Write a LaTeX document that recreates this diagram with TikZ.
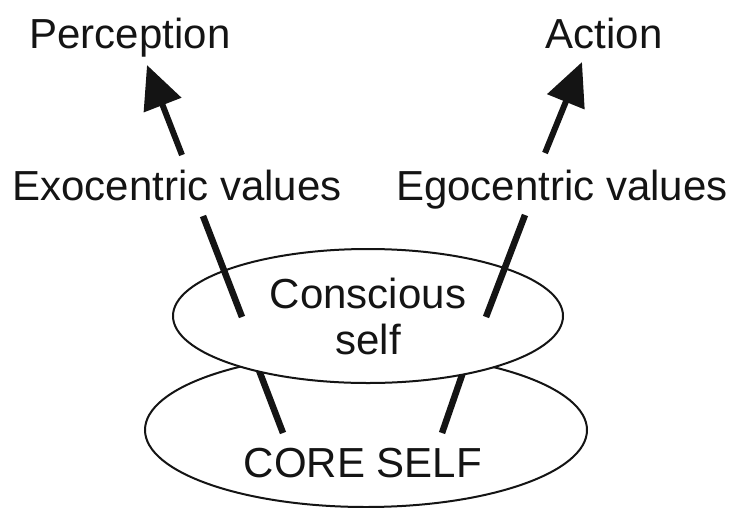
\documentclass[tikz,border=0pt]{standalone}
\usepackage{fontspec}
\setmainfont{Liberation Sans}
\usepackage{tikz}
\usetikzlibrary{arrows.meta,shapes.geometric}
\definecolor{csInk}{RGB}{20,20,20}

\begin{document}
\begin{tikzpicture}[x=1pt, y=-1pt,
  lbl/.style={font=\fontsize{42}{46}\selectfont, text=csInk, inner sep=0pt, anchor=base},
  selfoval/.style={ellipse, draw=csInk, line width=2pt, fill=white, inner sep=0pt},
  valarrow/.style={csInk, line width=6pt, -{Triangle[length=43pt,width=39pt]}},
  link/.style={csInk, line width=6.5pt}]
  \useasboundingbox (0,0) rectangle (733,507);

  % Outcomes
  \node[lbl] (perc) at (130,48) {Perception};
  \node[lbl] (act) at (604,48) {Action};

  % Values
  \node[lbl] (exo) at (177,200) {Exocentric values};
  \node[lbl] (ego) at (562,200) {Egocentric values};

  % Line ends
  \coordinate (exo-up) at (182,155);
  \coordinate (perc-tip) at (147,65);
  \coordinate (ego-up) at (545,153);
  \coordinate (act-tip) at (582,62);
  \coordinate (exo-dn) at (203,216);
  \coordinate (cons-l) at (242,317);
  \coordinate (ego-dn) at (525,215);
  \coordinate (cons-r) at (486,317);
  \coordinate (cons-bl) at (252,352);
  \coordinate (core-l) at (283,433);
  \coordinate (cons-br) at (470,352);
  \coordinate (core-r) at (442,433);

  % Core self
  \node[selfoval, minimum width=442pt, minimum height=154pt] (core) at (366,430) {};
  \node[lbl] (coretxt) at (363,477) {CORE SELF};
  \draw[link] (cons-bl) -- (core-l);
  \draw[link] (cons-br) -- (core-r);

  % Conscious self
  \node[selfoval, minimum width=390pt, minimum height=134pt,
        font=\fontsize{42}{46}\selectfont, text=csInk, align=center] (cons) at (368,316) {Conscious\\self};
  \draw[link] (exo-dn) -- (cons-l);
  \draw[link] (ego-dn) -- (cons-r);

  % Arrows
  \draw[valarrow] (exo-up) -- (perc-tip);
  \draw[valarrow] (ego-up) -- (act-tip);
\end{tikzpicture}
\end{document}
